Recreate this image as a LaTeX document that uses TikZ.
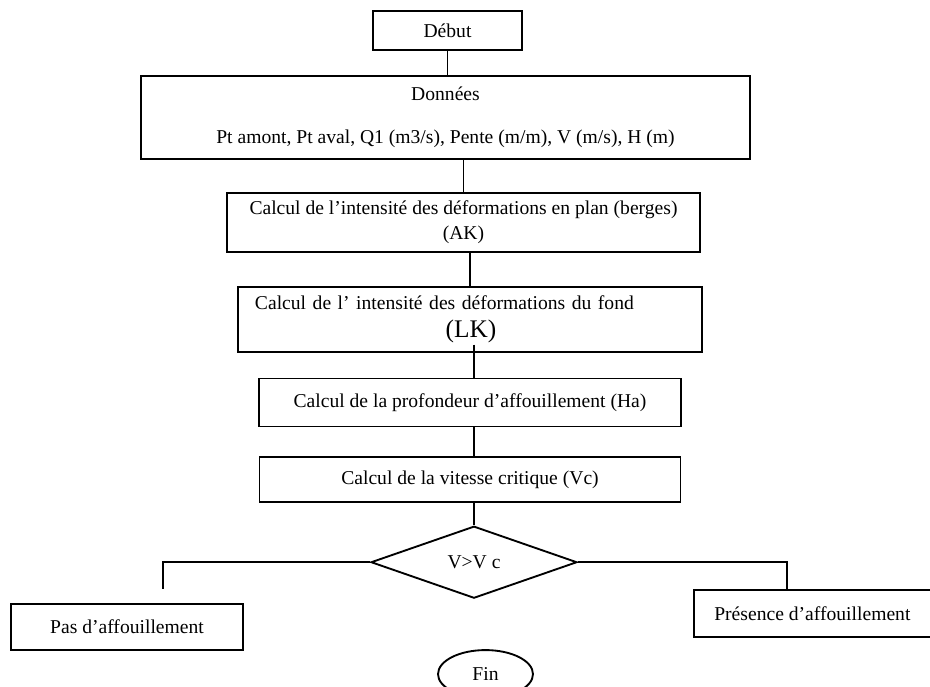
\documentclass[tikz,border=0pt]{standalone}
\usepackage{fontspec}
\setmainfont{Liberation Serif}
\usepackage{tikz}
\usetikzlibrary{positioning,shapes.geometric}

\begin{document}
\begin{tikzpicture}[
  node distance=18pt,
  box/.style={draw,line width=1.4pt,inner sep=0pt,align=center,
              font=\fontsize{14.7}{17.6}\selectfont},
  choix/.style={draw,diamond,line width=1.4pt,inner sep=0pt,minimum width=154.5pt,
              minimum height=54pt,font=\fontsize{14.7}{17.6}\selectfont},
  term/.style={draw,ellipse,line width=1.4pt,inner sep=0pt,minimum width=71.25pt,
              minimum height=36pt,font=\fontsize{14.7}{17.6}\selectfont},
  lien/.style={line width=1.1pt}
]
\useasboundingbox (-335.625pt,22.875pt) rectangle (361.875pt,-491.625pt);
\node[box,minimum width=111.75pt,minimum height=29.25pt] (deb) {Début};
\node[box,minimum width=456.75pt,minimum height=62.25pt,below=18pt of deb,xshift=-1.5pt] (don)
  {Données\\[14.6pt]Pt amont, Pt aval, Q1 (m3/s), Pente (m/m), V (m/s), H (m)};
\node[box,minimum width=354.75pt,minimum height=44.25pt,below=24pt of don,xshift=13.5pt] (ak)
  {Calcul de l'intensité des déformations en plan (berges)\\[1pt](AK)};
\node[box,inner xsep=12.75pt,text width=322.5pt,align=left,minimum height=48.75pt,
      below=24.75pt of ak,xshift=4.875pt] (lk)
  {Calcul de l' intensité des déformations du fond\\[3pt]\hspace*{143pt}{\fontsize{19}{20}\selectfont(LK)}};
\node[box,minimum width=316.5pt,minimum height=36pt,below=18.75pt of lk] (ha)
  {Calcul de la profondeur d'affouillement (Ha)};
\node[box,minimum width=315.75pt,minimum height=33.75pt,below=21.75pt of ha] (vc)
  {Calcul de la vitesse critique (Vc)};
\node[choix,below=16.5pt of vc,xshift=3pt] (dec) {V>V c};
\node[box,minimum width=174pt,minimum height=34.5pt,below=3pt of dec,xshift=-260.25pt] (pas)
  {Pas d'affouillement};
\node[box,minimum width=177.75pt,minimum height=35.25pt,right=86.25pt of dec,yshift=-38.25pt] (pre)
  {Présence d'affouillement};
\node[term,below=37.5pt of dec,xshift=8.625pt] (fin) {Fin};
\coordinate (pasin) at ([xshift=27pt,yshift=10.5pt]pas.north);

\draw[lien] (deb.south) -- (deb.south |- don.north);
\draw[lien] (ak.north |- don.south) -- (ak.north);
\draw[lien] (lk.north |- ak.south) -- (lk.north);
\draw[lien] ([yshift=6pt]lk.south -| dec.north) -- (dec.north |- ha.north);
\draw[lien] (dec.north |- ha.south) -- (dec.north |- vc.north);
\draw[lien] (dec.north |- vc.south) -- (dec.north);
\draw[lien] (dec.west) -| (pasin);
\draw[lien] (dec.east) -| ([xshift=-19.1pt]pre.north);
\end{tikzpicture}
\end{document}
